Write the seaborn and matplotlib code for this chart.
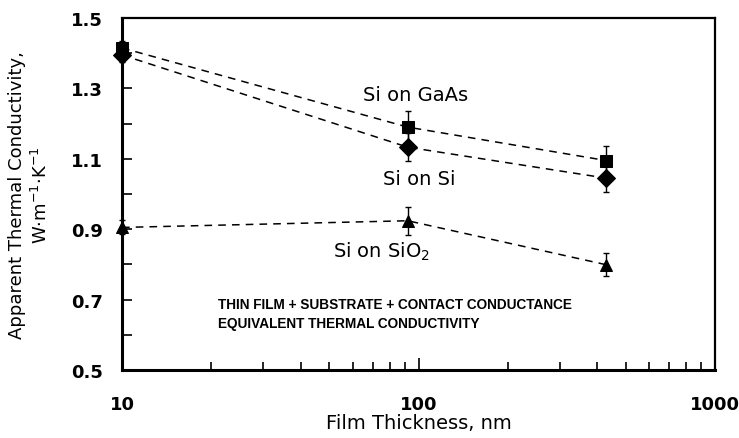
import numpy as np
import pandas as pd
import matplotlib
matplotlib.use("Agg")
import matplotlib.pyplot as plt
import seaborn as sns
from matplotlib.ticker import FixedLocator, NullFormatter, FixedFormatter

thickness = [10, 92, 430]
series_names = ["Si on GaAs", "Si on Si", "Si on SiO2"]
gaas = [1.415, 1.19, 1.095]
gaas_err = [0.02, 0.045, 0.04]
si = [1.395, 1.133, 1.045]
si_err = [0.02, 0.04, 0.04]
sio2 = [0.905, 0.924, 0.799]
sio2_err = [0.02, 0.04, 0.032]
yticks = [0.5, 0.7, 0.9, 1.1, 1.3, 1.5]
xticks = [10, 100, 1000]

sns.set_theme(style="white")
plt.rcParams['font.family'] = ['DejaVu Sans']

df = pd.DataFrame({
    "x": thickness * 3,
    "y": gaas + si + sio2,
    "err": gaas_err + si_err + sio2_err,
    "series": sum([[n] * 3 for n in series_names], []),
})

fig = plt.figure(figsize=(7.39, 4.39), dpi=100)
ax = fig.add_axes([122 / 739, 1 - 371 / 439, (715 - 122) / 739, (371 - 19) / 439])

markers = {"Si on GaAs": "s", "Si on Si": "D", "Si on SiO2": "^"}
sizes = {"Si on GaAs": 9, "Si on Si": 9, "Si on SiO2": 9}
for name in series_names:
    sub = df[df.series == name]
    sns.lineplot(data=sub, x="x", y="y", ax=ax, color="black", lw=1.1,
                 linestyle=(0, (5, 4)), marker=markers[name],
                 markersize=sizes[name], markeredgecolor="black", legend=False,
                 zorder=3, clip_on=False)
    ax.errorbar(sub.x, sub.y, yerr=sub.err, fmt="none", ecolor="black",
                elinewidth=1.0, capsize=2.5, capthick=1.0, zorder=2, clip_on=False)

ax.set_xscale("log")
ax.set_xlim(10, 1000)
ax.set_ylim(0.5, 1.5)
ax.xaxis.set_major_locator(FixedLocator(xticks))
ax.xaxis.set_major_formatter(FixedFormatter([str(t) for t in xticks]))
ax.xaxis.set_minor_locator(FixedLocator([k * 10 ** d for d in (1, 2) for k in range(2, 10)]))
ax.xaxis.set_minor_formatter(NullFormatter())
ax.yaxis.set_major_locator(FixedLocator(yticks))
ax.yaxis.set_minor_locator(FixedLocator([0.6, 0.8, 1.0, 1.2, 1.4]))
ax.set_yticklabels([f"{t:.1f}" for t in yticks])

ax.tick_params(axis="both", which="both", direction="in", color="black",
               bottom=True, left=True, top=False, right=False,
               labelsize=13, width=1.2)
ax.tick_params(axis="x", which="major", length=9, pad=18)
ax.tick_params(axis="x", which="minor", length=6)
ax.tick_params(axis="y", which="both", length=7, pad=14)
for lbl in ax.get_xticklabels() + ax.get_yticklabels():
    lbl.set_fontweight("bold")
    lbl.set_color("black")

for s in ["left", "bottom"]:
    ax.spines[s].set_linewidth(2.2)
    ax.spines[s].set_color("black")
for s in ["top", "right"]:
    ax.spines[s].set_linewidth(1.6)
    ax.spines[s].set_color("black")

ax.set_xlabel("Film Thickness, nm", fontsize=14, color="black", labelpad=0)
ax.set_ylabel("Apparent Thermal Conductivity,\nW·m$^{-1}$·K$^{-1}$", fontsize=13,
              color="black", labelpad=14, linespacing=1.3)

ax.text(65.0, 1.284, "Si on GaAs", fontsize=14, va="center", ha="left", color="black")
ax.text(75.9, 1.043, "Si on Si", fontsize=14, va="center", ha="left", color="black")
ax.text(51.5, 0.838, "Si on SiO$_2$", fontsize=14, va="center", ha="left", color="black")
ax.text(21.1, 0.6875, "THIN FILM + SUBSTRATE + CONTACT CONDUCTANCE", fontsize=9.8,
        va="center", ha="left", color="black", fontweight="bold",
        family=["Liberation Sans", "DejaVu Sans"])
ax.text(21.1, 0.6335, "EQUIVALENT THERMAL CONDUCTIVITY", fontsize=9.8,
        va="center", ha="left", color="black", fontweight="bold",
        family=["Liberation Sans", "DejaVu Sans"])

fig.savefig("out.png", dpi=100, facecolor="white")
